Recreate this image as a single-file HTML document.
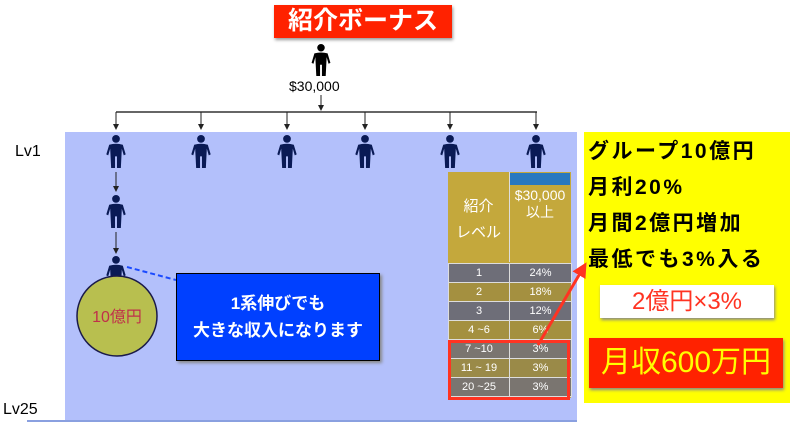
<!DOCTYPE html>
<html><head><meta charset="utf-8"><style>
body{margin:0;width:797px;height:447px;background:#fff;position:relative;overflow:hidden;font-family:"Liberation Sans","Noto Sans CJK JP",sans-serif}
.a{position:absolute}
.t td{border:1px solid #ddd;color:#fff;text-align:center;font-size:11px;padding:0;height:18px}
</style></head><body>
<div class="a" style="left:274px;top:5px;width:178px;height:33px;background:#ff2200;box-shadow:1px 2px 3px #999;color:#fff;font-weight:bold;font-size:25px;line-height:33px;text-align:center">紹介ボーナス</div>
<div class="a" style="left:65px;top:132px;width:512px;height:289px;background:#b3c0fb"></div>
<div class="a" style="left:27px;top:420px;width:550px;height:2px;background:#8aa0e0"></div>
<div class="a" style="left:15px;top:143px;font-size:16px">Lv1</div>
<div class="a" style="left:3px;top:401px;font-size:16px">Lv25</div>
<div class="a" style="left:289px;top:78px;font-size:14px">$30,000</div>
<svg class="a" style="left:0;top:0" width="797" height="447">
<defs>
<marker id="ar" markerWidth="6" markerHeight="6" refX="3" refY="3" orient="auto"><path d="M0,0L6,3L0,6z" fill="#222"/></marker>
<marker id="rr" markerWidth="5" markerHeight="5" refX="2" refY="2.5" orient="auto"><path d="M0,0L5,2.5L0,5z" fill="#f32"/></marker>
<symbol id="p" viewBox="0 0 20 34"><circle cx="10" cy="4" r="4"/><path d="M3,10Q10,8 17,10L20,20L18,21L16,14L15,34H11V22H9V34H5L4,14L2,21L0,20z"/></symbol>
</defs>
<use href="#p" x="311" y="44" width="20" height="32" fill="#000"/>
<line x1="321" y1="95" x2="321" y2="108" stroke="#222" marker-end="url(#ar)"/>
<polyline points="116,112 537,112" stroke="#333" fill="none" stroke-width="1.5"/>
<g stroke="#222" marker-end="url(#ar)">
<line x1="116" y1="112" x2="116" y2="127"/><line x1="201" y1="112" x2="201" y2="127"/><line x1="287" y1="112" x2="287" y2="127"/><line x1="365" y1="112" x2="365" y2="127"/><line x1="450" y1="112" x2="450" y2="127"/><line x1="536" y1="112" x2="536" y2="127"/>
<line x1="116" y1="172" x2="116" y2="189"/><line x1="116" y1="232" x2="116" y2="251"/>
</g>
<g fill="#0a1a55">
<use href="#p" x="106" y="135" width="20" height="33"/><use href="#p" x="191" y="135" width="20" height="33"/><use href="#p" x="277" y="135" width="20" height="33"/><use href="#p" x="355" y="135" width="20" height="33"/><use href="#p" x="440" y="135" width="20" height="33"/><use href="#p" x="526" y="135" width="20" height="33"/>
<use href="#p" x="106" y="195" width="20" height="33"/><use href="#p" x="106" y="256" width="20" height="33"/>
</g>
<circle cx="117" cy="316" r="40" fill="#b8bf4f" stroke="#1a1a4a" stroke-width="1.5"/>
<text x="117" y="322" font-size="16" fill="#c0304a" text-anchor="middle">10億円</text>
<line x1="127" y1="267" x2="176" y2="280" stroke="#1a4aff" stroke-width="2" stroke-dasharray="5,3"/>
</svg>
<div class="a" style="left:176px;top:273px;width:204px;height:88px;background:#0040ff;border:1px solid #000;box-shadow:2px 2px 3px #888;color:#fff;font-size:17px;font-weight:bold;text-align:center;line-height:27px;padding-top:16px;box-sizing:border-box">1系伸びでも<br>大きな収入になります</div>
<div class="a" style="left:448px;top:172px;width:123px;height:226px;background:#c4a83c"></div>
<div class="a" style="left:510px;top:173px;width:60px;height:12px;background:#2878c0"></div>
<div class="a" style="left:509px;top:172px;width:1px;height:90px;background:#ddd"></div>
<div class="a" style="left:448px;top:194px;width:61px;color:#fff;font-size:15px;text-align:center;line-height:26px">紹介<br>レベル</div>
<div class="a" style="left:509px;top:187px;width:62px;color:#fff;font-size:14px;text-align:center;line-height:17px">$30,000<br>以上</div>
<table class="t a" style="left:448px;top:263px;width:123px;border-collapse:collapse;table-layout:fixed">
<colgroup><col style="width:61px"><col style="width:62px"></colgroup>
<tr style="background:#6e6e78"><td>1</td><td>24%</td></tr>
<tr style="background:#a49040"><td>2</td><td>18%</td></tr>
<tr style="background:#6e6e78"><td>3</td><td>12%</td></tr>
<tr style="background:#a49040"><td>4 ~6</td><td>6%</td></tr>
<tr style="background:#7a7570"><td>7 ~10</td><td>3%</td></tr>
<tr style="background:#9a8a48"><td>11 ~ 19</td><td>3%</td></tr>
<tr style="background:#7a7570"><td>20 ~25</td><td>3%</td></tr>
</table>
<div class="a" style="left:448px;top:340px;width:116px;height:54px;border:3px solid #f32"></div>
<div class="a" style="left:584px;top:132px;width:206px;height:271px;background:#ffff00"></div>
<svg class="a" style="left:0;top:0" width="797" height="447"><line x1="538" y1="345" x2="582" y2="270" stroke="#f32" stroke-width="3" marker-end="url(#rr)"/></svg>
<div class="a" style="left:588px;top:134px;font-size:21px;font-weight:bold;line-height:36px;letter-spacing:2.5px;white-space:nowrap">グループ10億円<br>月利20%<br>月間2億円増加<br>最低でも3%入る</div>
<div class="a" style="left:600px;top:285px;width:174px;height:33px;background:#fff;box-shadow:1px 2px 3px #888;color:#f32;font-size:24px;text-align:center;line-height:33px">2億円×3%</div>
<div class="a" style="left:589px;top:338px;width:194px;height:50px;background:#ff2200;box-shadow:1px 2px 3px #888;color:#ffff00;font-size:30px;text-align:center;line-height:50px">月収600万円</div>
</body></html>
